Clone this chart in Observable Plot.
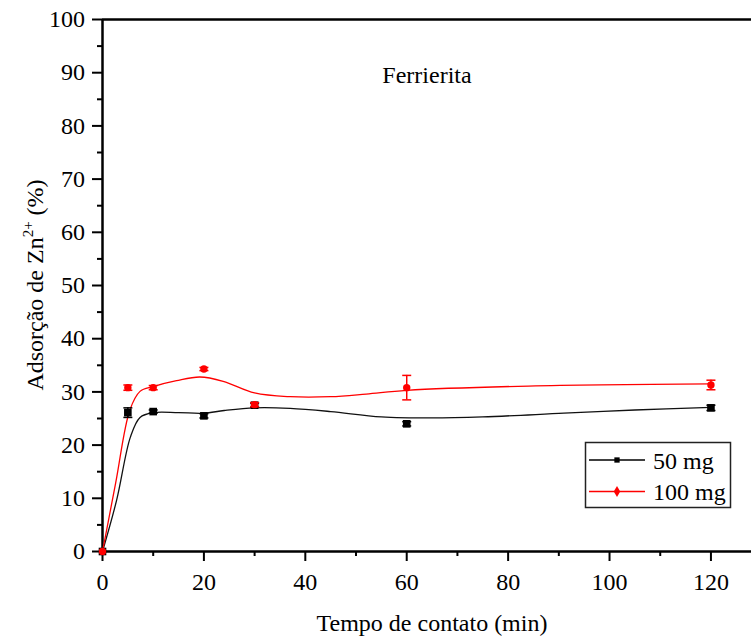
<!DOCTYPE html>
<html><head><meta charset="utf-8">
<script src="https://cdn.jsdelivr.net/npm/d3@7"></script>
<script src="https://cdn.jsdelivr.net/npm/@observablehq/plot@0.6"></script>
<style>
body{margin:0;background:#fff}
#chart{position:relative;width:752px;height:638px}
#chart svg text{font-family:'Liberation Serif','Times New Roman',serif !important}
</style>
</head><body><div id="chart"></div>
<script>
// measured points
const times = [0, 5, 10, 20, 30, 60, 120];
const ads50 = [0, 26.1, 26.3, 25.5, 27.5, 24.0, 27.0];
const err50 = [0, 0.9, 0.3, 0.4, 0.4, 0.4, 0.5];
const ads100 = [0, 30.8, 30.8, 34.3, 27.6, 30.8, 31.3];
const err100 = [0, 0.5, 0.4, 0.3, 0.4, 2.3, 0.9];
// fitted curves
const fit50X = [0, 2.8, 5.5, 7.4, 10, 15, 20, 24, 30, 37, 45, 55, 65, 75, 91, 105, 120];
const fit50Y = [0, 9.7, 21.5, 25.2, 26.1, 26.1, 26.0, 26.5, 27.0, 26.9, 26.3, 25.3, 25.1, 25.3, 26.0, 26.6, 27.1];
const fit100X = [0, 2.6, 5.4, 7.4, 10, 14.6, 19.2, 23.8, 30, 37, 45, 52, 60, 84, 120];
const fit100Y = [0, 12.9, 26.6, 30.1, 31.0, 32.1, 32.8, 32.0, 29.8, 29.1, 29.1, 29.6, 30.3, 31.1, 31.5];
// ticks
const xMajor = [0, 20, 40, 60, 80, 100, 120];
const xMinor = [10, 30, 50, 70, 90, 110];
const yMajor = [0, 10, 20, 30, 40, 50, 60, 70, 80, 90, 100];
const yMinor = [5, 15, 25, 35, 45, 55, 65, 75, 85, 95];
const seriesNames = ["50 mg", "100 mg"];
const titleText = "Ferrierita";
const xLabel = "Tempo de contato (min)";

const serif = "'Liberation Serif', 'Times New Roman', serif";
const pts50 = times.map((t, i) => ({x: t, y: ads50[i], e: err50[i]}));
const pts100 = times.map((t, i) => ({x: t, y: ads100[i], e: err100[i]}));
const fit50 = fit50X.map((x, i) => ({x, y: fit50Y[i]}));
const fit100 = fit100X.map((x, i) => ({x, y: fit100Y[i]}));

const cap = {draw(ctx, size) { const w = Math.sqrt(size / Math.PI); ctx.moveTo(-w, 0); ctx.lineTo(w, 0); }};

function errMarks(data, color) {
  const d2 = data.filter(d => d.e > 0);
  return [
    Plot.ruleX(d2, {x: "x", y1: d => d.y - d.e, y2: d => d.y + d.e, stroke: color, strokeWidth: 1.5}),
    Plot.dot(d2, {x: "x", y: d => d.y + d.e, symbol: cap, r: 4.5, stroke: color, strokeWidth: 1.5, fill: "none"}),
    Plot.dot(d2, {x: "x", y: d => d.y - d.e, symbol: cap, r: 4.5, stroke: color, strokeWidth: 1.5, fill: "none"})
  ];
}

const plot = Plot.plot({
  width: 752, height: 638,
  marginLeft: 102, marginRight: 1, marginTop: 19, marginBottom: 87,
  style: {fontFamily: serif, fontSize: "24px", color: "#000", background: "#fff", overflow: "visible"},
  x: {domain: [0, 128], axis: null},
  y: {domain: [0, 100], axis: null},
  marks: [
    Plot.axisX({ticks: xMajor, tickSize: 10, tickPadding: 11, strokeWidth: 2, label: null, tickFormat: d => String(d), fontSize: 24, fontFamily: serif}),
    Plot.axisX({ticks: xMinor, tickSize: 5, strokeWidth: 2, label: null, tickFormat: () => ""}),
    Plot.axisY({ticks: yMajor, tickSize: 10, tickPadding: 7.5, strokeWidth: 2, label: null, tickFormat: d => String(d), fontSize: 24, fontFamily: serif}),
    Plot.axisY({ticks: yMinor, tickSize: 5, strokeWidth: 2, label: null, tickFormat: () => ""}),
    Plot.ruleY([0, 100], {stroke: "#000", strokeWidth: 2.5}),
    Plot.ruleX([0], {stroke: "#000", strokeWidth: 2.5}),
    Plot.line(fit50, {x: "x", y: "y", curve: "catmull-rom", stroke: "#111", strokeWidth: 1.3}),
    Plot.line(fit100, {x: "x", y: "y", curve: "catmull-rom", stroke: "#ff0000", strokeWidth: 1.3}),
    ...errMarks(pts50, "#000"),
    Plot.dot(pts50, {x: "x", y: "y", symbol: "square", r: 4.3, fill: "#000"}),
    ...errMarks(pts100, "#ff0000"),
    Plot.dot(pts100, {x: "x", y: "y", symbol: "circle", r: 3.7, fill: "#ff0000"}),
    Plot.text([titleText], {text: d => d, frameAnchor: "top", dy: 46, fontSize: 24, fontFamily: serif, fill: "#000"})
  ]
});
document.getElementById("chart").appendChild(plot);

const svg = d3.select(plot);
// y label with superscript
const yl = svg.append("text")
  .attr("transform", "translate(43,285) rotate(-90)")
  .attr("text-anchor", "middle").attr("font-size", 24).attr("font-family", serif).attr("fill", "#000");
yl.append("tspan").text("Adsorção de Zn");
yl.append("tspan").attr("font-size", 15).attr("dy", -10).text("2+");
yl.append("tspan").attr("font-size", 24).attr("dy", 10).text("\u00a0(%)");
// x label
svg.append("text").attr("x", 432).attr("y", 631).attr("text-anchor", "middle")
  .attr("font-size", 24).attr("font-family", serif).attr("fill", "#000").text(xLabel);
// legend
const lg = svg.append("g");
lg.append("rect").attr("x", 585.5).attr("y", 442.5).attr("width", 145).attr("height", 65)
  .attr("fill", "#fff").attr("stroke", "#222").attr("stroke-width", 1.5);
const colors = ["#000", "#ff0000"];
const symbols = [d3.symbolSquare, d3.symbolDiamond];
seriesNames.forEach((name, i) => {
  const yy = 460 + i * 31.5;
  lg.append("line").attr("x1", 589).attr("x2", 645).attr("y1", yy).attr("y2", yy)
    .attr("stroke", colors[i]).attr("stroke-width", 1.3);
  lg.append("path").attr("d", d3.symbol(symbols[i], i === 0 ? 28 : 36)())
    .attr("transform", `translate(617,${yy})`).attr("fill", colors[i]);
  lg.append("text").attr("x", 653).attr("y", yy + 8.5).attr("text-anchor", "start")
    .attr("font-size", 24).attr("font-family", serif).attr("fill", "#000").text(name);
});
</script>
</body></html>
